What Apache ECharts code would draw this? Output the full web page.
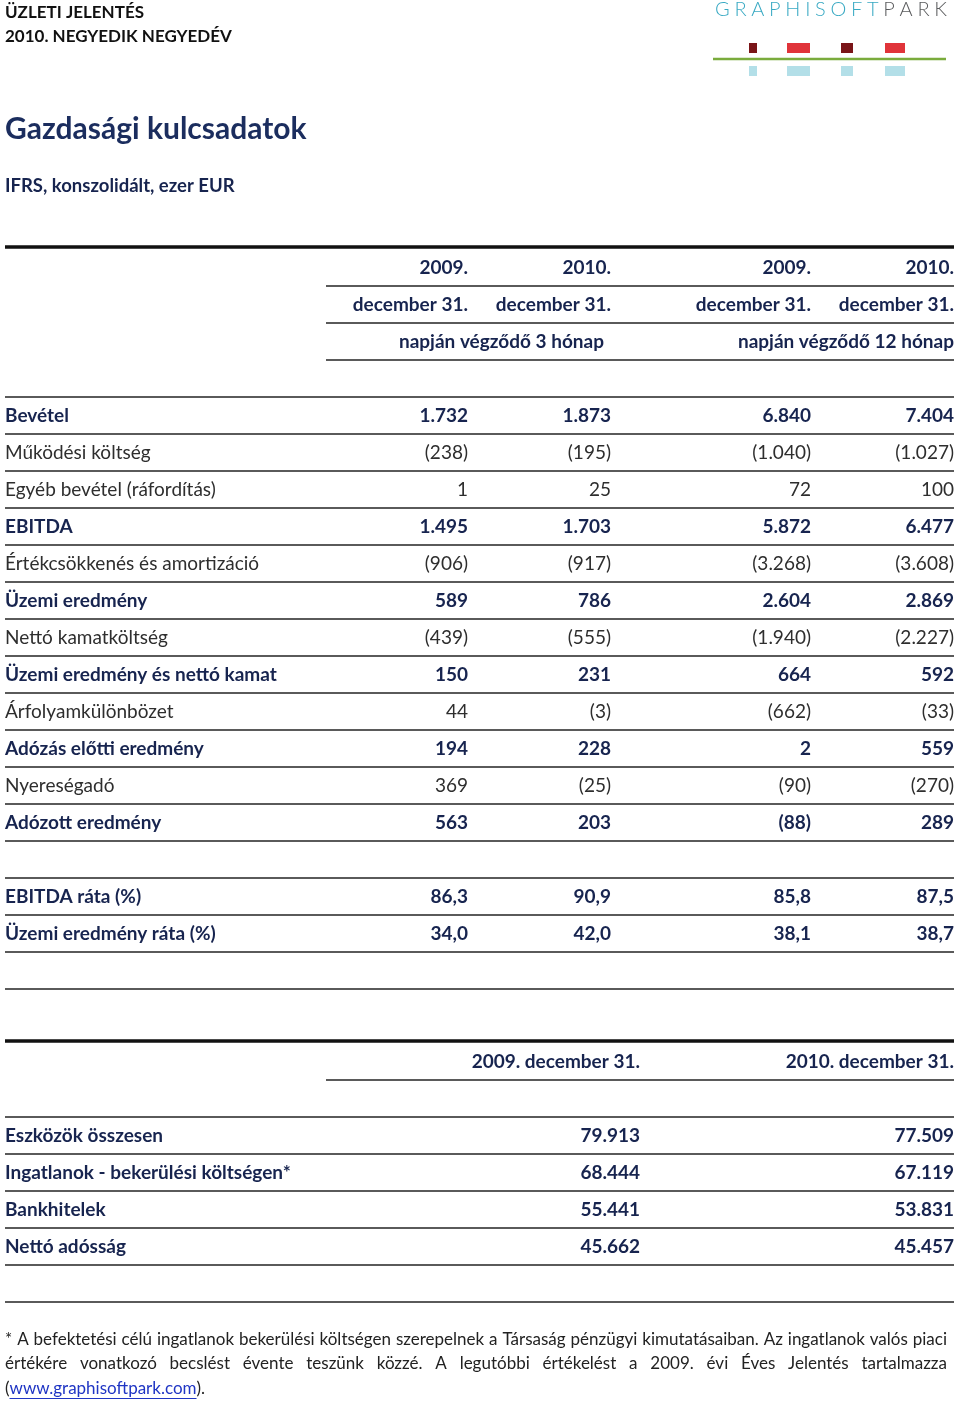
<!DOCTYPE html>
<html><head><meta charset="utf-8">
<script src="https://cdn.jsdelivr.net/npm/echarts@6/dist/echarts.min.js"></script>
<style>html,body{margin:0;padding:0;background:#fff}#c{width:960px;height:1401px}</style>
</head><body><div id="c"></div>
<script>
// ---------------- DATA ----------------
const colYears = ['2009.', '2010.', '2009.', '2010.'];
const colDates = ['december 31.', 'december 31.', 'december 31.', 'december 31.'];
const periodLabels = ['napján végződő 3 hónap', 'napján végződő 12 hónap'];

const rowLabels = ['Bevétel', 'Működési költség', 'Egyéb bevétel (ráfordítás)', 'EBITDA',
  'Értékcsökkenés és amortizáció', 'Üzemi eredmény', 'Nettó kamatköltség',
  'Üzemi eredmény és nettó kamat', 'Árfolyamkülönbözet', 'Adózás előtti eredmény',
  'Nyereségadó', 'Adózott eredmény'];
const rowBold = [true, false, false, true, false, true, false, true, false, true, false, true];
const q4_2009 = [1732, -238, 1, 1495, -906, 589, -439, 150, 44, 194, 369, 563];
const q4_2010 = [1873, -195, 25, 1703, -917, 786, -555, 231, -3, 228, -25, 203];
const fy_2009 = [6840, -1040, 72, 5872, -3268, 2604, -1940, 664, -662, 2, -90, -88];
const fy_2010 = [7404, -1027, 100, 6477, -3608, 2869, -2227, 592, -33, 559, -270, 289];

const ratioLabels = ['EBITDA ráta (%)', 'Üzemi eredmény ráta (%)'];
const ratio_q4_2009 = [86.3, 34.0];
const ratio_q4_2010 = [90.9, 42.0];
const ratio_fy_2009 = [85.8, 38.1];
const ratio_fy_2010 = [87.5, 38.7];

const balanceHeaders = ['2009. december 31.', '2010. december 31.'];
const balanceLabels = ['Eszközök összesen', 'Ingatlanok - bekerülési költségen*', 'Bankhitelek', 'Nettó adósság'];
const balance_2009 = [79913, 68444, 55441, 45662];
const balance_2010 = [77509, 67119, 53831, 45457];

const footLines = [
  '* A befektetési célú ingatlanok bekerülési költségen szerepelnek a Társaság pénzügyi kimutatásaiban. Az ingatlanok valós piaci',
  'értékére vonatkozó becslést évente teszünk közzé. A legutóbbi értékelést a 2009. évi Éves Jelentés tartalmazza'
];
const footLink = 'www.graphisoftpark.com';

// ---------------- STYLE / LAYOUT ----------------
const FONT = 'Lato, "Noto Sans", sans-serif';
const NAVY = '#17244f';
const TITLE = '#1b2d5e';
const TEXT = '#2e2e2e';
const LINE = '#5a5a5a';
const LEFT = 5, RIGHT = 954, SUB_LEFT = 326;
const COL_X = [468, 611, 811, 954];
const PERIOD_X = [604, 954];
const BAL_X = [640, 954];
const FS = 19;
const TY = 1; // baseline nudge

function fmtNum(v) {
  const s = Math.abs(v).toString().replace(/\B(?=(\d{3})+(?!\d))/g, '.');
  return v < 0 ? '(' + s + ')' : s;
}
function fmtPct(v) { return v.toFixed(1).replace('.', ','); }

// table 1 rows
const rows1 = [];
rows1.push({ cells: colYears, bold: true, line: 'sub', thickTop: true });
rows1.push({ cells: colDates, bold: true, line: 'sub' });
rows1.push({ period: true, line: 'sub' });
rows1.push({ line: 'full' });
rowLabels.forEach((l, i) => rows1.push({ label: l, bold: rowBold[i],
  cells: [q4_2009[i], q4_2010[i], fy_2009[i], fy_2010[i]].map(fmtNum), line: 'full' }));
rows1.push({ line: 'full' });
ratioLabels.forEach((l, i) => rows1.push({ label: l, bold: true,
  cells: [ratio_q4_2009[i], ratio_q4_2010[i], ratio_fy_2009[i], ratio_fy_2010[i]].map(fmtPct), line: 'full' }));
rows1.push({ line: 'full' });

// table 2 rows
const rows2 = [];
rows2.push({ cells: balanceHeaders, bold: true, line: 'sub', thickTop: true });
rows2.push({ line: 'full' });
balanceLabels.forEach((l, i) => rows2.push({ label: l, bold: true,
  cells: [balance_2009[i], balance_2010[i]].map(fmtNum), line: 'full' }));
rows2.push({ line: 'full' });

function txt(text, x, y, bold, align, color, size, weight) {
  return { type: 'text', x: x, y: y + TY, silent: true, style: {
    text: text, fill: color || (bold ? NAVY : TEXT), fontSize: size || FS, fontFamily: FONT,
    fontWeight: weight || (bold ? 'bold' : 'normal'), align: align || 'left', verticalAlign: 'middle' } };
}
function hline(x1, x2, y, w, c) {
  return { type: 'line', silent: true, shape: { x1: x1, y1: y, x2: x2, y2: y },
    style: { stroke: c || LINE, lineWidth: w || 2 } };
}

function makeRender(rows, colX) {
  return function (params, api) {
    const idx = api.value(1);
    const row = rows[idx];
    const cy = api.coord([0, idx])[1];
    const band = api.size([0, 1])[1];
    const X = v => api.coord([v, idx])[0];
    const ch = [];
    if (row.label) ch.push(txt(row.label, X(LEFT), cy, row.bold, 'left'));
    if (row.cells) row.cells.forEach((c, j) => ch.push(txt(c, X(colX[j]), cy, row.bold, 'right')));
    if (row.period) periodLabels.forEach((p, j) => ch.push(txt(p, X(PERIOD_X[j]), cy, true, 'right')));
    const yb = Math.round(cy + band / 2);
    ch.push(hline(row.line === 'sub' ? X(SUB_LEFT) : X(LEFT), X(RIGHT), yb, 2));
    if (row.thickTop) ch.push(hline(X(LEFT), X(RIGHT), Math.round(cy - band / 2) - 2, 3.5, '#111'));
    return { type: 'group', children: ch };
  };
}

// ---------------- FOOTNOTE (justified words) ----------------
const FOOT_FS = 17;
const FOOT_COLOR = '#222';
const meas = document.createElement('canvas').getContext('2d');
meas.font = 'normal ' + FOOT_FS + 'px Lato';
const footGraphics = [];
const FOOT_Y = [1339, 1363, 1388];
const FOOT_L = 5, FOOT_R = 947;
footLines.forEach((line, li) => {
  const words = line.split(' ');
  const widths = words.map(w => meas.measureText(w).width);
  const total = widths.reduce((a, b) => a + b, 0);
  const gap = (FOOT_R - FOOT_L - total) / (words.length - 1);
  let x = FOOT_L;
  words.forEach((w, k) => {
    footGraphics.push(txt(w, x, FOOT_Y[li], false, 'left', FOOT_COLOR, FOOT_FS));
    x += widths[k] + gap;
  });
});
{
  const wOpen = meas.measureText('(').width;
  const wLink = meas.measureText(footLink).width;
  footGraphics.push(txt('(', FOOT_L, FOOT_Y[2], false, 'left', FOOT_COLOR, FOOT_FS));
  footGraphics.push(txt(footLink, FOOT_L + wOpen, FOOT_Y[2], false, 'left', '#1f35c4', FOOT_FS));
  footGraphics.push(hline(FOOT_L + wOpen, FOOT_L + wOpen + wLink, FOOT_Y[2] + 10.5, 1, '#1f35c4'));
  footGraphics.push(txt(').', FOOT_L + wOpen + wLink, FOOT_Y[2], false, 'left', FOOT_COLOR, FOOT_FS));
}

// ---------------- LOGO ----------------
const logoWord = 'GRAPHISOFTPARK';
const logoGraphics = [];
{
  const LOGO_FS = 20, LX0 = 715, LX1 = 947;
  const lm = document.createElement('canvas').getContext('2d');
  lm.font = '300 ' + LOGO_FS + 'px Lato';
  const lw = logoWord.split('').map(c => lm.measureText(c).width);
  const sp = (LX1 - LX0 - lw.reduce((a, b) => a + b, 0)) / (logoWord.length - 1);
  let x = LX0;
  for (let i = 0; i < logoWord.length; i++) {
    logoGraphics.push({ type: 'text', x: x, y: 10, silent: true, style: {
      text: logoWord[i], fill: i < 10 ? '#38a9c3' : '#5a5b5d', fontSize: LOGO_FS, fontFamily: FONT,
      fontWeight: 300, align: 'left', verticalAlign: 'middle' } });
    x += lw[i] + sp;
  }
}
const logoBlocks = [[749, 8, '#7a1518'], [787, 23, '#e0343a'], [841, 12, '#7a1518'], [885, 20, '#e0343a']];
logoBlocks.forEach(b => {
  logoGraphics.push({ type: 'rect', silent: true, shape: { x: b[0], y: 43, width: b[1], height: 10 }, style: { fill: b[2] } });
  logoGraphics.push({ type: 'rect', silent: true, shape: { x: b[0], y: 66, width: b[1], height: 10 }, style: { fill: '#b3dfe8' } });
});
logoGraphics.push(hline(713, 946, 59, 2.5, '#7aab3c'));

// ---------------- CHART ----------------
const chart = echarts.init(document.getElementById('c'), null, { renderer: 'canvas' });
const option = {
  animation: false,
  backgroundColor: '#ffffff',
  grid: [
    { left: 0, right: 0, top: 248.5, height: 37 * rows1.length },
    { left: 0, right: 0, top: 1042.5, height: 37 * rows2.length }
  ],
  xAxis: [
    { gridIndex: 0, type: 'value', min: 0, max: 960, show: false },
    { gridIndex: 1, type: 'value', min: 0, max: 960, show: false }
  ],
  yAxis: [
    { gridIndex: 0, type: 'category', inverse: true, show: false, data: rows1.map((r, i) => 'r' + i) },
    { gridIndex: 1, type: 'category', inverse: true, show: false, data: rows2.map((r, i) => 'b' + i) }
  ],
  series: [
    { type: 'custom', xAxisIndex: 0, yAxisIndex: 0, silent: true, clip: false,
      encode: { x: 0, y: 1 }, data: rows1.map((r, i) => [0, i]), renderItem: makeRender(rows1, COL_X) },
    { type: 'custom', xAxisIndex: 1, yAxisIndex: 1, silent: true, clip: false,
      encode: { x: 0, y: 1 }, data: rows2.map((r, i) => [0, i]), renderItem: makeRender(rows2, BAL_X) }
  ],
  graphic: [
    txt('ÜZLETI JELENTÉS', 5, 12, true, 'left', '#111', 17),
    txt('2010. NEGYEDIK NEGYEDÉV', 5, 36, true, 'left', '#111', 17),
    txt('Gazdasági kulcsadatok', 5, 128, true, 'left', TITLE, 30),
    txt('IFRS, konszolidált, ezer EUR', 5, 185, true, 'left', NAVY, 18.5)
  ].concat(logoGraphics, footGraphics)
};
chart.setOption(option);
</script>
</body></html>
